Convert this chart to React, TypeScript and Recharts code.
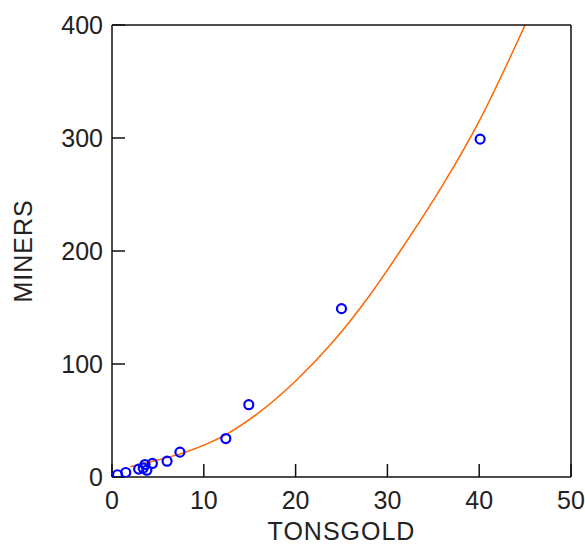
import React from 'react';
import { ComposedChart, XAxis, YAxis, Scatter, Line } from 'recharts';

const tonsGold = [0.6, 1.5, 2.9, 3.4, 3.8, 3.6, 4.4, 6.0, 7.4, 12.4, 14.9, 25.0, 40.1];
const miners = [2, 4, 7, 8, 6, 11, 12, 14, 22, 34, 64, 149, 299];

const fitX = [2, 5, 8, 12.5, 16, 20, 24, 28, 31.4, 36, 40, 45];
const fitY = [9, 15, 22, 38, 57, 85, 119, 160, 200, 258, 315, 400];

const xTicks = [0, 10, 20, 30, 40, 50];
const yTicks = [0, 100, 200, 300, 400];

const points = tonsGold.map((x, i) => ({ x, y: miners[i] }));
const curve = fitX.map((x, i) => ({ x, y: fitY[i] }));

const FONT = '"Liberation Sans", Arial, sans-serif';
const tickStyle = { fontFamily: FONT, fontSize: 25, fill: '#222' };

const Ring = (props: any) => (
  <circle cx={props.cx} cy={props.cy} r={4.5} fill="none" stroke="#0000ff" strokeWidth={2.2} />
);

export default function App() {
  return (
    <div style={{ position: 'absolute', left: 0, top: 0 }}>
      <ComposedChart width={585} height={544} margin={{ top: 24, right: 13, left: 0, bottom: 0 }}>
        <XAxis
          xAxisId="b"
          dataKey="x"
          type="number"
          domain={[0, 50]}
          ticks={xTicks}
          orientation="bottom"
          height={67}
          tickSize={-13}
          tickMargin={27}
          tick={tickStyle}
          axisLine={{ stroke: '#111', strokeWidth: 1.5 }}
          tickLine={{ stroke: '#111', strokeWidth: 1.5 }}
          label={{ value: 'TONSGOLD', position: 'insideBottom', offset: 4, style: { fontFamily: FONT, fontSize: 25, fill: '#222', letterSpacing: 1 } }}
        />
        <XAxis
          xAxisId="t"
          dataKey="x"
          type="number"
          domain={[0, 50]}
          ticks={xTicks}
          orientation="top"
          height={1}
          tickSize={-13}
          tick={false}
          axisLine={{ stroke: '#111', strokeWidth: 1.5 }}
          tickLine={{ stroke: '#111', strokeWidth: 1.5 }}
        />
        <YAxis
          yAxisId="l"
          type="number"
          domain={[0, 400]}
          ticks={yTicks}
          orientation="left"
          width={112}
          tickSize={-13}
          tickMargin={22}
          tick={tickStyle}
          axisLine={{ stroke: '#111', strokeWidth: 1.5 }}
          tickLine={{ stroke: '#111', strokeWidth: 1.5 }}
          allowDataOverflow
          label={{
            value: 'MINERS',
            content: (p: any) => {
              const vb = p.viewBox || {};
              const cx = 22.5;
              const cy = (vb.y || 0) + (vb.height || 0) / 2;
              return (
                <text
                  x={cx}
                  y={cy}
                  transform={`rotate(-90 ${cx} ${cy})`}
                  textAnchor="middle"
                  dominantBaseline="central"
                  style={{ fontFamily: FONT, fontSize: 25, fill: '#222', letterSpacing: 1 }}
                >
                  MINERS
                </text>
              );
            },
          }}
        />
        <YAxis
          yAxisId="r"
          type="number"
          domain={[0, 400]}
          ticks={yTicks}
          orientation="right"
          width={1}
          tickSize={-13}
          tick={false}
          axisLine={{ stroke: '#111', strokeWidth: 1.5 }}
          tickLine={{ stroke: '#111', strokeWidth: 1.5 }}
        />
        <Line
          xAxisId="b"
          yAxisId="l"
          data={curve}
          dataKey="y"
          type="monotone"
          stroke="#ff6600"
          strokeWidth={1.5}
          dot={false}
          activeDot={false}
          isAnimationActive={false}
        />
        <Scatter
          xAxisId="b"
          yAxisId="l"
          data={points}
          dataKey="y"
          shape={Ring}
          isAnimationActive={false}
        />
      </ComposedChart>
    </div>
  );
}
